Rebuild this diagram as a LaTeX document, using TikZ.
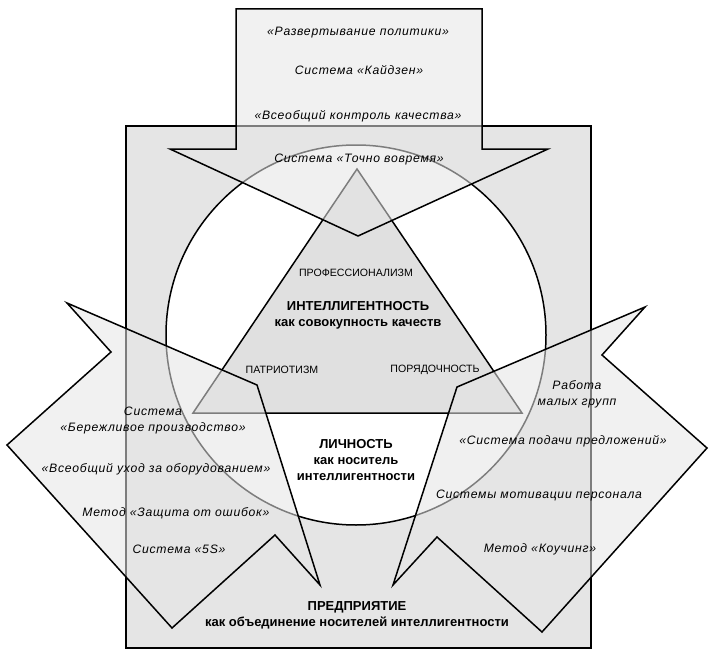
\documentclass[tikz,border=0pt]{standalone}
\usepackage{fontspec}
\setmainfont{Liberation Sans}
\newfontfamily\spacedfont[LetterSpace=6]{Liberation Sans}
\definecolor{rectgray}{gray}{0.9}
\definecolor{trigray}{gray}{0.88}
\definecolor{arrowgray}{gray}{0.9}
\tikzset{
  frame/.style={draw=black, line width=2pt, fill=rectgray},
  ring/.style={draw=black, line width=1.5pt, fill=white},
  tri/.style={draw=black, line width=1.5pt, fill=trigray, line join=miter},
  bigarrow/.style={draw=black, line width=1.5pt, fill=arrowgray, fill opacity=0.55, line join=miter},
  itlabel/.style={inner sep=0pt, align=center, font=\spacedfont\itshape\fontsize{12.2}{16}\selectfont},
  caplabel/.style={inner sep=0pt, align=center, font=\fontsize{10.6}{13}\selectfont},
  boldlabel/.style={inner sep=0pt, align=center, font=\bfseries\fontsize{13}{16}\selectfont},
}
\begin{document}
\begin{tikzpicture}[x=1pt, y=-1pt]
\useasboundingbox (0,0) rectangle (712,669);
% enterprise frame
\draw[frame] (126,126) rectangle (591,648);
% personality circle
\draw[ring] (356,335) circle[radius=190];
% intelligence triangle
\draw[tri] (357,169) -- (522,413) -- (193,413) -- cycle;
% top arrow
\draw[bigarrow] (236,9) -- (482,9) -- (482,149) -- (548,149) -- (358,236) -- (170,149) -- (236,149) -- cycle;
% left arrow
\draw[bigarrow] (7,445) -- (111,352) -- (67,303) -- (257,385) -- (320,585) -- (275,535) -- (172,628) -- cycle;
% right arrow
\draw[bigarrow] (645,307) -- (457,387) -- (393,585) -- (437,537) -- (542,632) -- (707,448) -- (602,355) -- cycle;
% top texts
\node[itlabel] (t1) at (358,33) {«Развертывание политики»};
\node[itlabel] (t2) at (359,70) {Система «Кайдзен»};
\node[itlabel] (t3) at (358,116) {«Всеобщий контроль качества»};
\node[itlabel] (t4) at (359,160) {Система «Точно вовремя»};
% left texts
\node[itlabel] (l1) at (153,421) {Система\\«Бережливое производство»};
\node[itlabel] (l2) at (156,469) {«Всеобщий уход за оборудованием»};
\node[itlabel] (l3) at (176,513) {Метод «Защита от ошибок»};
\node[itlabel] (l4) at (179,549) {Система «5S»};
% right texts
\node[itlabel] (r1) at (577,394) {Работа\\малых групп};
\node[itlabel] (r2) at (563,441) {«Система подачи предложений»};
\node[itlabel] (r3) at (539,496) {Системы мотивации персонала};
\node[itlabel] (r4) at (540,549) {Метод «Коучинг»};
% center texts
\node[caplabel] (c1) at (356,273) {ПРОФЕССИОНАЛИЗМ};
\node[boldlabel] (c2) at (358,315) {ИНТЕЛЛИГЕНТНОСТЬ\\как совокупность качеств};
\node[caplabel] (c3) at (282,370) {ПАТРИОТИЗМ};
\node[caplabel] (c4) at (435,370) {ПОРЯДОЧНОСТЬ};
\node[boldlabel] (c5) at (356,460) {ЛИЧНОСТЬ\\как носитель\\интеллигентности};
\node[boldlabel] (c6) at (357,615) {ПРЕДПРИЯТИЕ\\как объединение носителей интеллигентности};
\end{tikzpicture}
\end{document}
